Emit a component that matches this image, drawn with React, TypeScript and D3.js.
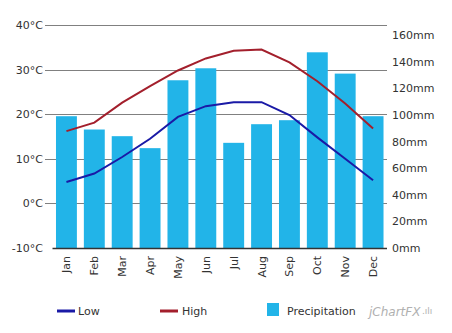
import React from "react";
import * as d3 from "d3";

const months = ["Jan", "Feb", "Mar", "Apr", "May", "Jun", "Jul", "Aug", "Sep", "Oct", "Nov", "Dec"];
const low = [4.8, 6.7, 10.4, 14.5, 19.4, 21.8, 22.7, 22.7, 19.8, 14.8, 10.0, 5.2];
const high = [16.2, 18.1, 22.6, 26.3, 29.8, 32.5, 34.2, 34.5, 31.6, 27.4, 22.4, 16.8];
const precipitation = [99, 89, 84, 75, 126, 135, 79, 93, 96, 147, 131, 99];
const tempTicks = [-10, 0, 10, 20, 30, 40];
const mmTicks = [0, 20, 40, 60, 80, 100, 120, 140, 160];

const FONT = "'DejaVu Sans', Verdana, sans-serif";

export default function App() {
  const W = 452, H = 333;
  const left = 52.5, right = 387;
  const x = d3.scaleBand<string>().domain(months).range([left, right]).paddingInner(0.25).paddingOuter(0.125);
  const yT = d3.scaleLinear().domain([-10, 40]).range([248, 25]);
  const yP = d3.scaleLinear().domain([0, 160]).range([248, 35]);
  const cx = (m: string) => (x(m) as number) + x.bandwidth() / 2;
  const lineGen = d3.line<number>().x((_, i) => cx(months[i])).y((d) => yT(d));
  const textColor = "#333";

  return (
    <svg width={W} height={H} style={{ position: "absolute", left: 0, top: 0, background: "#fff" }}>
      {tempTicks.filter((t) => t > -10).map((t) => (
        <line key={t} x1={45} x2={right} y1={Math.round(yT(t)) + 0.5} y2={Math.round(yT(t)) + 0.5} stroke="#808080" strokeWidth={1} />
      ))}
      {precipitation.map((v, i) => (
        <rect key={i} x={x(months[i])} width={x.bandwidth()} y={yP(v)} height={yP(0) - yP(v)} fill="#22b4e8" />
      ))}
      <line x1={left} x2={right} y1={248.5} y2={248.5} stroke="#333" strokeWidth={1.3} />
      <path d={lineGen(low) || ""} fill="none" stroke="#1a1aa6" strokeWidth={2} />
      <path d={lineGen(high) || ""} fill="none" stroke="#a31f2c" strokeWidth={2} />
      {tempTicks.map((t) => (
        <text key={t} x={43} y={yT(t) + 4} textAnchor="end" fontFamily={FONT} fontSize={11} fill={textColor}>
          {t}°C
        </text>
      ))}
      {mmTicks.map((t) => (
        <text key={t} x={392} y={yP(t) + 4} textAnchor="start" fontFamily={FONT} fontSize={11} fill={textColor}>
          {t}mm
        </text>
      ))}
      {months.map((m) => (
        <text key={m} transform={`translate(${cx(m) + 4},256) rotate(-90)`} textAnchor="end" fontFamily={FONT} fontSize={11} fill={textColor}>
          {m}
        </text>
      ))}
      <g fontFamily={FONT} fontSize={11} fill={textColor}>
        <line x1={57} x2={75} y1={311} y2={311} stroke="#1a1aa6" strokeWidth={3} />
        <text x={78} y={315}>Low</text>
        <line x1={160} x2={178} y1={311} y2={311} stroke="#a31f2c" strokeWidth={3} />
        <text x={182} y={315}>High</text>
        <rect x={267} y={303} width={12} height={13} fill="#22b4e8" />
        <text x={287} y={315}>Precipitation</text>
        <text x={369} y={316} fontStyle="italic" fontSize={12} fill="#b0b0b0">jChartFX</text>
        <text x={422} y={314} fontSize={9} fill="#b0b0b0">.ılı</text>
      </g>
    </svg>
  );
}
